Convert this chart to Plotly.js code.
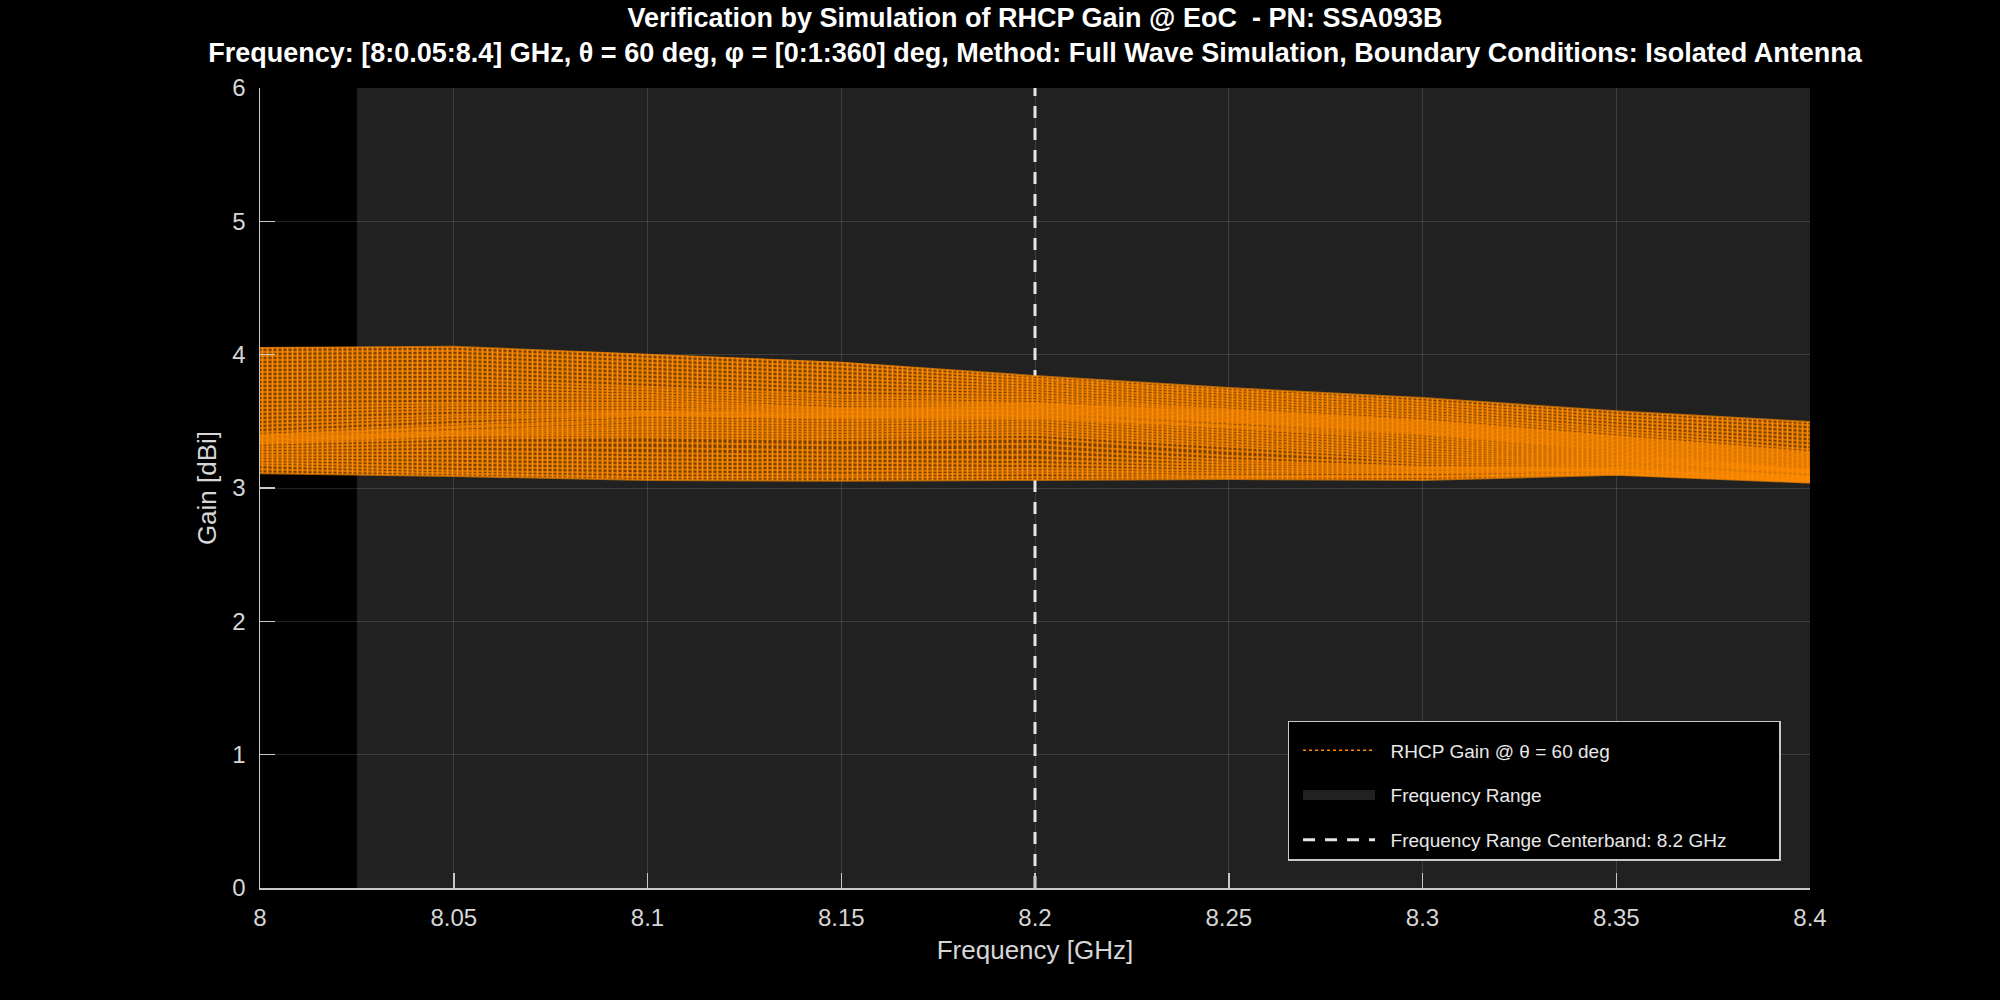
<!DOCTYPE html>
<html>
<head>
<meta charset="utf-8">
<script src="https://cdn.plot.ly/plotly-3.0.1.min.js"></script>
<style>
  html, body { margin: 0; padding: 0; background: #000; }
  #chart { width: 2000px; height: 1000px; }
</style>
</head>
<body>
<div id="chart"></div>
<script>
const freqGHz = [8, 8.05, 8.1, 8.15, 8.2, 8.25, 8.3, 8.35, 8.4];
const bandGHz = [8.025, 8.4];
const centerGHz = 8.2;
const gainRange = [0, 6];

// outer edges of the spread over phi
const gainMax = [4.055, 4.06, 4.005, 3.945, 3.84, 3.75, 3.675, 3.575, 3.495];
const gainMin = [3.11, 3.09, 3.06, 3.055, 3.06, 3.067, 3.06, 3.10, 3.04];

// sampled phi cuts, read per frequency, top of the band first
const gain_800 = [4.05, 4.02, 3.99, 3.96, 3.93, 3.90, 3.87, 3.84, 3.81, 3.78, 3.75, 3.72, 3.69, 3.66, 3.63, 3.60, 3.57, 3.54, 3.51, 3.48, 3.45, 3.42,
    3.40, 3.39, 3.38, 3.37, 3.36, 3.35, 3.34, 3.33,
    3.31, 3.29, 3.27, 3.25, 3.23, 3.21, 3.19, 3.17, 3.14, 3.11];
const gain_805 = [4.06, 4.03, 4.00, 3.97, 3.94, 3.91, 3.88, 3.85, 3.82, 3.79, 3.76, 3.73, 3.70, 3.67, 3.64, 3.62, 3.60, 3.58, 3.55, 3.53, 3.51, 3.48,
    3.46, 3.45, 3.43, 3.42, 3.41, 3.40, 3.39, 3.37,
    3.34, 3.31, 3.28, 3.25, 3.22, 3.19, 3.16, 3.13, 3.11, 3.09];
const gain_810 = [4.00, 3.97, 3.94, 3.91, 3.88, 3.85, 3.82, 3.79, 3.76, 3.74, 3.72, 3.70, 3.68, 3.66, 3.64, 3.62, 3.60, 3.58, 3.57, 3.56, 3.55, 3.54,
    3.52, 3.50, 3.48, 3.46, 3.44, 3.42, 3.40, 3.38,
    3.34, 3.30, 3.26, 3.23, 3.20, 3.17, 3.14, 3.11, 3.08, 3.06];
const gain_815 = [3.94, 3.91, 3.88, 3.85, 3.82, 3.79, 3.76, 3.73, 3.70, 3.68, 3.66, 3.64, 3.62, 3.60, 3.59, 3.58, 3.57, 3.56, 3.55, 3.54, 3.53, 3.52,
    3.50, 3.48, 3.46, 3.44, 3.42, 3.40, 3.38, 3.36,
    3.32, 3.28, 3.25, 3.22, 3.19, 3.16, 3.13, 3.10, 3.08, 3.055];
const gain_820 = [3.84, 3.82, 3.80, 3.78, 3.76, 3.74, 3.72, 3.70, 3.68, 3.66,
    3.64, 3.63, 3.62, 3.61, 3.60, 3.59, 3.58, 3.57, 3.56, 3.55, 3.54, 3.53,
    3.52, 3.50, 3.48, 3.46, 3.44, 3.42, 3.40, 3.37,
    3.33, 3.29, 3.25, 3.21, 3.18, 3.15, 3.13, 3.11, 3.08, 3.06];
const gain_825 = [3.75, 3.73, 3.71, 3.69, 3.67, 3.65, 3.63, 3.61,
    3.59, 3.58, 3.57, 3.56, 3.55, 3.54, 3.53, 3.52, 3.51, 3.50, 3.49, 3.47, 3.46, 3.45,
    3.43, 3.41, 3.39, 3.37, 3.35, 3.33, 3.31, 3.28,
    3.24, 3.21, 3.19, 3.17, 3.15, 3.13, 3.11, 3.09, 3.08, 3.067];
const gain_830 = [3.675, 3.65, 3.63, 3.61, 3.59, 3.57, 3.55, 3.53,
    3.51, 3.50, 3.49, 3.48, 3.47, 3.46, 3.45, 3.44, 3.43, 3.42, 3.41, 3.40, 3.38, 3.36,
    3.34, 3.32, 3.30, 3.28, 3.26, 3.24, 3.22, 3.20,
    3.18, 3.16, 3.15, 3.14, 3.13, 3.12, 3.11, 3.09, 3.08, 3.06];
const gain_835 = [3.575, 3.55, 3.525, 3.50, 3.475, 3.45, 3.43, 3.41,
    3.39, 3.38, 3.37, 3.36, 3.35, 3.34, 3.33, 3.32, 3.31, 3.30, 3.29, 3.28, 3.27, 3.26,
    3.25, 3.24, 3.23, 3.22, 3.21, 3.20, 3.19, 3.18,
    3.17, 3.16, 3.15, 3.14, 3.135, 3.13, 3.12, 3.11, 3.105, 3.10];
const gain_840 = [3.495, 3.47, 3.44, 3.41, 3.38, 3.35, 3.32, 3.29,
    3.27, 3.26, 3.25, 3.24, 3.23, 3.22, 3.21, 3.20, 3.19, 3.18, 3.17, 3.16, 3.15, 3.14,
    3.135, 3.13, 3.125, 3.12, 3.115, 3.11, 3.10, 3.09,
    3.085, 3.08, 3.075, 3.07, 3.065, 3.06, 3.055, 3.05, 3.045, 3.04];

const columns = [gain_800, gain_805, gain_810, gain_815, gain_820, gain_825, gain_830, gain_835, gain_840];
const curves = gain_800.map((_, i) => columns.map(col => col[i]));

const orange = '#ff8c00';
const axisColor = '#c8c8c8';
const textColor = '#d6d6d6';
const shade = 'rgba(255,255,255,0.13)';

const traces = [];

// shaded frequency range
traces.push({
    x: [bandGHz[0], bandGHz[1], bandGHz[1], bandGHz[0], bandGHz[0]],
    y: [gainRange[0], gainRange[0], gainRange[1], gainRange[1], gainRange[0]],
    mode: 'lines',
    fill: 'toself',
    fillcolor: shade,
    line: {width: 0},
    showlegend: false,
    hoverinfo: 'skip',
});

traces.push({
    x: [centerGHz, centerGHz],
    y: gainRange,
    mode: 'lines',
    line: {color: '#e6e6e6', width: 3, dash: '12px,10px'},
    name: '\u00a0\u00a0Frequency Range Centerband: 8.2 GHz' + '\u00a0'.repeat(9),
    legendgroup: 'c', legendrank: 3,
});

// spread of all phi cuts, striped like the dense dotted lines
traces.push({
    x: freqGHz.concat(freqGHz.slice().reverse()),
    y: gainMax.concat(gainMin.slice().reverse()),
    mode: 'lines',
    fill: 'toself',
    fillcolor: '#7a4000',
    fillpattern: {shape: '|', size: 5, solidity: 0.35, fgcolor: orange, bgcolor: '#7a4000'},
    line: {width: 0},
    showlegend: false,
    hoverinfo: 'skip',
});

curves.forEach(c => traces.push({
    x: freqGHz,
    y: c,
    mode: 'lines',
    line: {color: 'rgba(255,140,0,0.65)', width: 2},
    showlegend: false,
}));

// legend entries only
traces.push({
    x: [null], y: [null],
    mode: 'lines',
    line: {color: orange, width: 1.5, dash: 'dot'},
    name: '\u00a0\u00a0RHCP Gain @ θ = 60 deg',
    legendgroup: 'a', legendrank: 1,
});
traces.push({
    x: [null], y: [null],
    mode: 'lines',
    line: {color: shade, width: 30},
    name: '\u00a0\u00a0Frequency Range',
    legendgroup: 'b', legendrank: 2,
});

const axisBase = {
    ticks: 'inside',
    ticklen: 15,
    tickwidth: 1.5,
    tickcolor: axisColor,
    showline: true,
    linecolor: axisColor,
    linewidth: 1.5,
    showgrid: true,
    gridcolor: 'rgba(255,255,255,0.13)',
    gridwidth: 1,
    zeroline: false,
    ticklabelstandoff: 8,
    tickfont: {size: 24, color: textColor},
};

const layout = {
    width: 2000,
    height: 1000,
    paper_bgcolor: '#000',
    plot_bgcolor: '#000',
    font: {family: 'Liberation Sans, Arial, sans-serif', color: textColor},
    margin: {l: 260, r: 190, t: 88, b: 112},
    title: {
        text: 'Verification by Simulation of RHCP Gain @ EoC\u00a0 - PN: SSA093B<br>' +
              'Frequency: [8:0.05:8.4] GHz, θ = 60 deg, φ = [0:1:360] deg, Method: Full Wave Simulation, Boundary Conditions: Isolated Antenna',
        font: {size: 27, color: '#ffffff', weight: 'bold'},
        x: 0.5, xref: 'paper',
        y: 0.973, yref: 'container', yanchor: 'top',
    },
    xaxis: Object.assign({}, axisBase, {
        range: [8, 8.4],
        tick0: 8, dtick: 0.05,
        title: {text: 'Frequency [GHz]', font: {size: 26, color: textColor}, standoff: 10},
    }),
    yaxis: Object.assign({}, axisBase, {
        range: gainRange,
        tick0: 0, dtick: 1,
        title: {text: 'Gain [dBi]', font: {size: 26, color: textColor}, standoff: 8},
    }),
    showlegend: true,
    legend: {
        x: 0.981, xanchor: 'right',
        y: 0.034, yanchor: 'bottom',
        bgcolor: '#000',
        bordercolor: axisColor,
        borderwidth: 1.5,
        font: {size: 19, color: '#e8e8e8'},
        title: {text: '\u00a0', font: {size: 7}},
        itemwidth: 72,
        indentation: 9,
        traceorder: 'grouped',
        tracegroupgap: 17,
    },
};

Plotly.newPlot('chart', traces, layout, {displayModeBar: false, staticPlot: true});
</script>
</body>
</html>
